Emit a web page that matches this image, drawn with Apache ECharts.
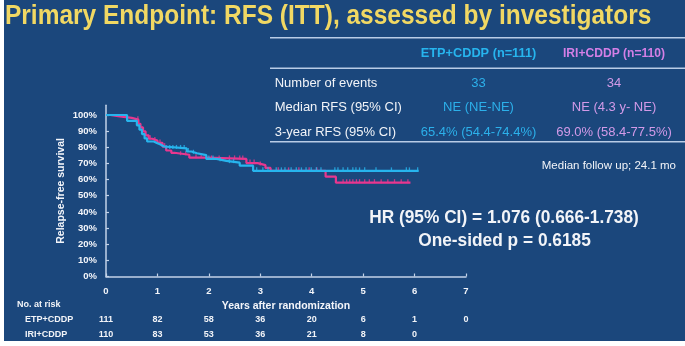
<!DOCTYPE html>
<html>
<head>
<meta charset="utf-8">
<script src="https://cdn.jsdelivr.net/npm/echarts@6/dist/echarts.min.js"></script>
<style>
  html, body { margin: 0; padding: 0; background: #ffffff; }
  #chart { width: 685px; height: 346px; }
</style>
</head>
<body>
<div id="chart"></div>
<script>
// Kaplan-Meier relapse-free survival, two arms

const yearTicks = [0, 1, 2, 3, 4, 5, 6, 7];
const pctTicks = [0, 10, 20, 30, 40, 50, 60, 70, 80, 90, 100];

// ETP+CDDP: event times (years) and survival (%) after each step
const etpTimes = [0, 0.41, 0.60, 0.65, 0.70, 0.75, 0.80, 0.93, 0.99, 1.06, 1.13, 1.57, 1.66, 1.77, 1.95, 2.15, 2.34, 2.60, 2.86];
const etpSurv  = [100, 96.4, 93.6, 90.9, 88.2, 85.5, 83.6, 82.6, 81.7, 80.5, 79.3, 77.4, 76.3, 75.2, 72.8, 71.6, 70.5, 68.6, 65.4];
const etpEnd = 6.08;
const etpCensor = [1.17, 1.24, 1.30, 1.37, 1.45, 1.52, 1.60, 1.70, 2.00, 2.08, 2.22, 2.40, 2.48, 2.93, 3.05, 3.15,
  3.31, 3.41, 3.48, 3.60, 3.70, 3.80, 3.89, 3.99, 4.09, 4.18, 4.45, 4.51, 4.61, 4.70, 4.80, 4.86, 4.93, 5.03,
  5.25, 5.55, 5.84, 5.90, 6.06];

// IRI+CDDP
const iriTimes = [0, 0.08, 0.27, 0.50, 0.63, 0.67, 0.72, 0.77, 0.83, 0.90, 1.00, 1.10, 1.17, 1.27, 1.33, 1.62, 1.95, 2.73, 2.95, 3.10, 3.20, 4.27, 4.47];
const iriSurv  = [100, 99.1, 98.2, 97.1, 94.5, 92.3, 89.8, 87.4, 85.3, 84.2, 82.7, 80.4, 78.0, 76.6, 75.4, 73.6, 72.8, 70.2, 69.0, 67.2, 65.4, 61.8, 58.1];
const iriEnd = 5.92;
const iriCensor = [0.62, 0.86, 0.95, 1.05, 1.14, 1.45, 1.55, 1.75, 1.85, 2.05, 2.20, 2.40, 2.50, 2.60, 2.66, 2.80, 2.88, 3.00,
  3.35, 3.55, 3.75, 3.95, 4.10, 4.61, 4.68, 4.74, 4.80, 4.87, 4.93, 5.03, 5.12, 5.22, 5.35, 5.48, 5.61, 5.74, 5.87];

// numbers at risk at each yearly tick
const riskEtp = [111, 82, 58, 36, 20, 6, 1, 0];
const riskIri = [110, 83, 53, 36, 21, 8, 0];

const CYAN = '#27b5ee';
const PINK = '#e8378f';
const BG = '#1b477c';
const AXIS = '#c3d2e8';
const FONT = '"Liberation Sans", Arial, sans-serif';

function stepData(times, surv, end) {
  const d = times.map((t, i) => [t, surv[i]]);
  d.push([end, surv[surv.length - 1]]);
  return d;
}
function survAt(times, surv, t) {
  let s = surv[0];
  for (let i = 0; i < times.length; i++) if (times[i] <= t) s = surv[i];
  return s;
}
function censorData(times, surv, cens) {
  return cens.map(t => [t, survAt(times, surv, t)]);
}

const chart = echarts.init(document.getElementById('chart'), null, { renderer: 'canvas' });

const gridLeft = 106, gridRight = 219, gridTop = 105.3, gridBottom = 69.5;

const option = {
  backgroundColor: '#ffffff',
  animation: false,
  grid: { left: gridLeft, right: gridRight, top: gridTop, bottom: gridBottom, containLabel: false },
  xAxis: {
    type: 'value', min: 0, max: 7, interval: 1,
    axisLine: { show: true, lineStyle: { color: AXIS, width: 1.5 } },
    axisTick: { show: true, inside: true, length: 3, lineStyle: { color: AXIS, width: 1.2 } },
    axisLabel: { color: '#f3f5fa', fontFamily: FONT, fontWeight: 'bold', fontSize: 9.5, margin: 10 },
    splitLine: { show: false },
    name: 'Years after randomization', nameLocation: 'middle', nameGap: 24, nameMoveOverlap: false,
    nameTextStyle: { color: '#f3f5fa', fontFamily: FONT, fontWeight: 'bold', fontSize: 10.5 }
  },
  yAxis: {
    type: 'value', min: 0, max: 106,
    axisLine: { show: true, lineStyle: { color: AXIS, width: 1.5 } },
    axisTick: { show: true, inside: true, length: 3, customValues: pctTicks, lineStyle: { color: AXIS, width: 1.2 } },
    axisLabel: { customValues: pctTicks, formatter: '{value}%', color: '#f3f5fa', fontFamily: FONT, fontWeight: 'bold', fontSize: 9.5, margin: 9 },
    splitLine: { show: false },
    name: 'Relapse-free survival', nameLocation: 'middle', nameGap: 39, nameRotate: 90, nameMoveOverlap: false,
    nameTextStyle: { color: '#f3f5fa', fontFamily: FONT, fontWeight: 'bold', fontSize: 10.5 }
  },
  series: [
    {
      name: 'IRI+CDDP', type: 'line', step: 'end', data: stepData(iriTimes, iriSurv, iriEnd),
      showSymbol: false, lineStyle: { color: PINK, width: 2.2 }, z: 3
    },
    {
      name: 'IRI+CDDP censored', type: 'scatter', data: censorData(iriTimes, iriSurv, iriCensor),
      symbol: 'rect', symbolSize: [1.3, 4], symbolOffset: [0, -1.5], itemStyle: { color: PINK }, z: 3
    },
    {
      name: 'ETP+CDDP', type: 'line', step: 'end', data: stepData(etpTimes, etpSurv, etpEnd),
      showSymbol: false, lineStyle: { color: CYAN, width: 2.2 }, z: 4
    },
    {
      name: 'ETP+CDDP censored', type: 'scatter', data: censorData(etpTimes, etpSurv, etpCensor),
      symbol: 'rect', symbolSize: [1.3, 4], symbolOffset: [0, -1.5], itemStyle: { color: CYAN }, z: 4
    }
  ]
};
chart.setOption(option);

// slide-style annotations
function txt(text, x, y, opts) {
  opts = opts || {};
  return {
    type: 'text', x: x, y: y, z: 10, scaleX: opts.scaleX || 1,
    style: {
      text: text, fill: opts.fill || '#f2f4f8',
      font: (opts.bold ? 'bold ' : '') + (opts.size || 13) + 'px ' + FONT,
      textAlign: opts.align || 'left', textVerticalAlign: 'middle'
    }
  };
}
function hline(y) {
  return { type: 'line', z: 10, shape: { x1: 270, y1: y, x2: 685, y2: y }, style: { stroke: '#b9cce6', lineWidth: 1.5 } };
}

const g = [];
g.push({ type: 'rect', z: -10, shape: { x: 4, y: 0, width: 681, height: 341 }, style: { fill: BG } });
g.push(txt('Primary Endpoint: RFS (ITT), assessed by investigators', 5, 17, { bold: true, size: 27, fill: '#f1d863', scaleX: 0.907 }));

g.push(hline(37.7), hline(68.3), hline(141.7));
const c1 = 478.5, c2 = 614;
g.push(txt('ETP+CDDP (n=111)', c1, 53.3, { bold: true, size: 13, fill: CYAN, align: 'center', scaleX: 0.98 }));
g.push(txt('IRI+CDDP (n=110)', c2, 53.3, { bold: true, size: 13, fill: '#d47fe6', align: 'center', scaleX: 0.93 }));
const rows = [
  ['Number of events', '33', '34', 83.3],
  ['Median RFS (95% CI)', 'NE (NE-NE)', 'NE (4.3 y- NE)', 107.7],
  ['3-year RFS (95% CI)', '65.4% (54.4-74.4%)', '69.0% (58.4-77.5%)', 132.3]
];
rows.forEach(r => {
  g.push(txt(r[0], 274.7, r[3], { size: 13 }));
  g.push(txt(r[1], c1, r[3], { size: 13, fill: '#2cb0ea', align: 'center' }));
  g.push(txt(r[2], c2, r[3], { size: 13, fill: '#d29ae8', align: 'center' }));
});
g.push(txt('Median follow up; 24.1 mo', 676, 165.7, { size: 11.5, align: 'right' }));
g.push(txt('HR (95% CI) = 1.076 (0.666-1.738)', 504, 218.3, { bold: true, size: 18.5, align: 'center', scaleX: 0.935 }));
g.push(txt('One-sided p = 0.6185', 504.5, 240.7, { bold: true, size: 18.5, align: 'center', scaleX: 0.935 }));

// number-at-risk table aligned with the x-axis ticks
g.push(txt('No. at risk', 17, 305, { bold: true, size: 9 }));
g.push(txt('ETP+CDDP', 25, 320, { bold: true, size: 9 }));
g.push(txt('IRI+CDDP', 25, 335, { bold: true, size: 9 }));
riskEtp.forEach((n, i) => {
  const px = chart.convertToPixel({ xAxisIndex: 0 }, yearTicks[i]);
  g.push(txt(String(n), px, 320, { bold: true, size: 9, align: 'center' }));
});
riskIri.forEach((n, i) => {
  const px = chart.convertToPixel({ xAxisIndex: 0 }, yearTicks[i]);
  g.push(txt(String(n), px, 335, { bold: true, size: 9, align: 'center' }));
});

chart.setOption({ graphic: g });
</script>
</body>
</html>
